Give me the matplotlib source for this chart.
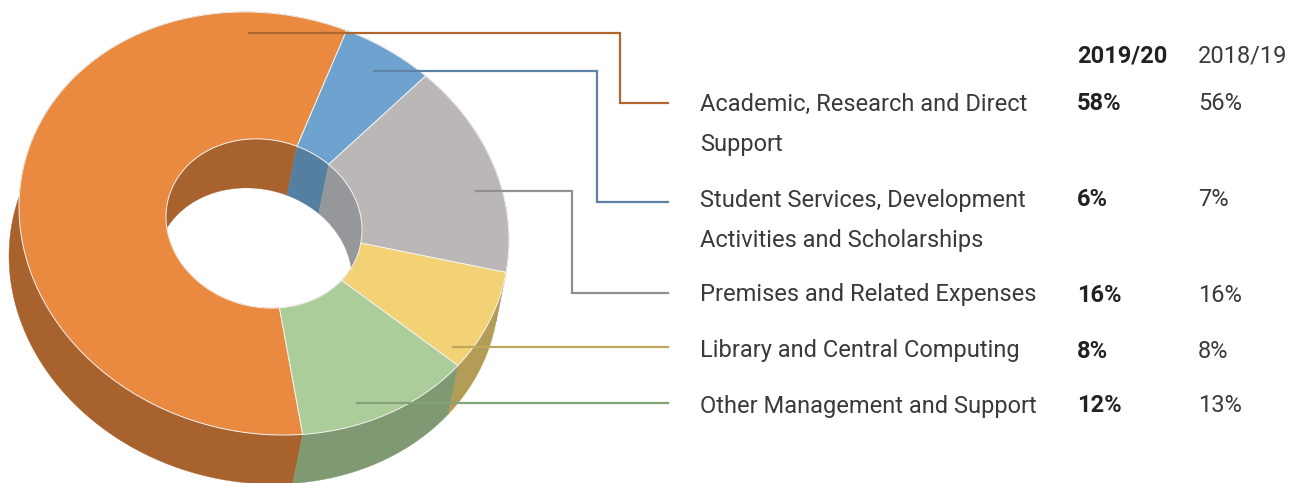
import numpy as np
import matplotlib
matplotlib.use("Agg")
import matplotlib.pyplot as plt
from matplotlib.patches import Polygon

# ---------------- data ----------------
categories = ["Academic, Research and Direct\nSupport",
              "Student Services, Development\nActivities and Scholarships",
              "Premises and Related Expenses",
              "Library and Central Computing",
              "Other Management and Support"]
share_2020 = [58, 6, 16, 8, 12]
share_2019 = [56, 7, 16, 8, 13]
year_labels = ["2019/20", "2018/19"]

top_colors = ["#EA8A40", "#6FA3CF", "#BAB7B6", "#F2D275", "#AACD99"]
side_colors = ["#A8622D", "#547FA1", "#96979B", "#B39C55", "#7F9A72"]
line_colors = ["#B0672F", "#5E82A6", "#909090", "#C1A65F", "#85A37B"]

# ---------------- layout ----------------
W, H = 1293, 483
fig = plt.figure(figsize=(W / 100, H / 100), dpi=100)
ax = fig.add_axes([0, 0, 1, 1])
ax.set_xlim(0, W)
ax.set_ylim(H, 0)
ax.axis("off")

CX, CY = 264.0, 223.5
AX_, AY_ = 245.0, 16.5
BX_, BY_ = 0.0, -210.9
DX, DY = -10.0, 49.0
HOLE = 0.4
START = 170.9  # clockwise from 12 o'clock


def pts(tc, k):
    t = np.radians(90.0 - np.asarray(tc))
    x = CX + k * (AX_ * np.cos(t) + BX_ * np.sin(t))
    y = CY + k * (AY_ * np.cos(t) + BY_ * np.sin(t))
    return np.column_stack([x, y])


bounds = []
acc = START
for v in share_2020:
    bounds.append((acc, acc + 3.6 * v))
    acc += 3.6 * v


def ribbon(a, b, k):
    ts = np.linspace(a, b, 200)
    top = pts(ts, k)
    bot = top + np.array([DX, DY])
    return np.vstack([top, bot[::-1]])


# outer walls
for (a, b), c in zip(bounds, side_colors):
    ax.add_patch(Polygon(ribbon(a, b, 1.0), closed=True, facecolor=c,
                         edgecolor=c, lw=0.3, zorder=1))

# inner walls (front ones first, back ones last)
order = [3, 4, 0, 1, 2]
for i in order:
    a, b = bounds[i]
    ax.add_patch(Polygon(ribbon(a, b, HOLE), closed=True, facecolor=side_colors[i],
                         edgecolor=side_colors[i], lw=0.3, zorder=2))

# top faces
for (a, b), c in zip(bounds, top_colors):
    ts = np.linspace(a, b, 200)
    poly = np.vstack([pts(ts, 1.0), pts(ts[::-1], HOLE)])
    ax.add_patch(Polygon(poly, closed=True, facecolor=c,
                         edgecolor="#F4F1EE", lw=0.7, zorder=3))

# leader lines
anchors = [(249, 33), (374, 71), (476, 191), (453, 347), (357, 403)]
elbows = [620, 597, 572, None, None]
row_y = [103, 202, 293, 347, 403]
line_end = 668
for (x0, y0), ex, ry, c in zip(anchors, elbows, row_y, line_colors):
    if ex is None:
        xs, ys = [x0, line_end], [y0, y0]
    else:
        xs, ys = [x0, ex, ex, line_end], [y0, y0, ry, ry]
    ax.plot(xs, ys, color=c, lw=1.6, solid_joinstyle="miter", zorder=5)

# table text
FONT = "Roboto"
txt_col = "#3A3A3A"
fs = 17
label_x, col1_x, col2_x = 700, 1077, 1198
text_rows = [104, 200, 295, 351, 406]
ax.text(col1_x, 56, year_labels[0], fontsize=fs, fontweight="bold",
        family=FONT, color="#222222", va="center", ha="left")
ax.text(col2_x, 56, year_labels[1], fontsize=fs, family=FONT,
        color=txt_col, va="center", ha="left")
for lab, v1, v2, y in zip(categories, share_2020, share_2019, text_rows):
    for j, line in enumerate(lab.split("\n")):
        ax.text(label_x, y + 40 * j, line, fontsize=fs, family=FONT,
                color=txt_col, va="center", ha="left")
    ax.text(col1_x, y, f"{v1}%", fontsize=fs, fontweight="bold", family=FONT,
            color="#222222", va="center", ha="left")
    ax.text(col2_x, y, f"{v2}%", fontsize=fs, family=FONT,
            color=txt_col, va="center", ha="left")

fig.savefig("out.png", dpi=100)
